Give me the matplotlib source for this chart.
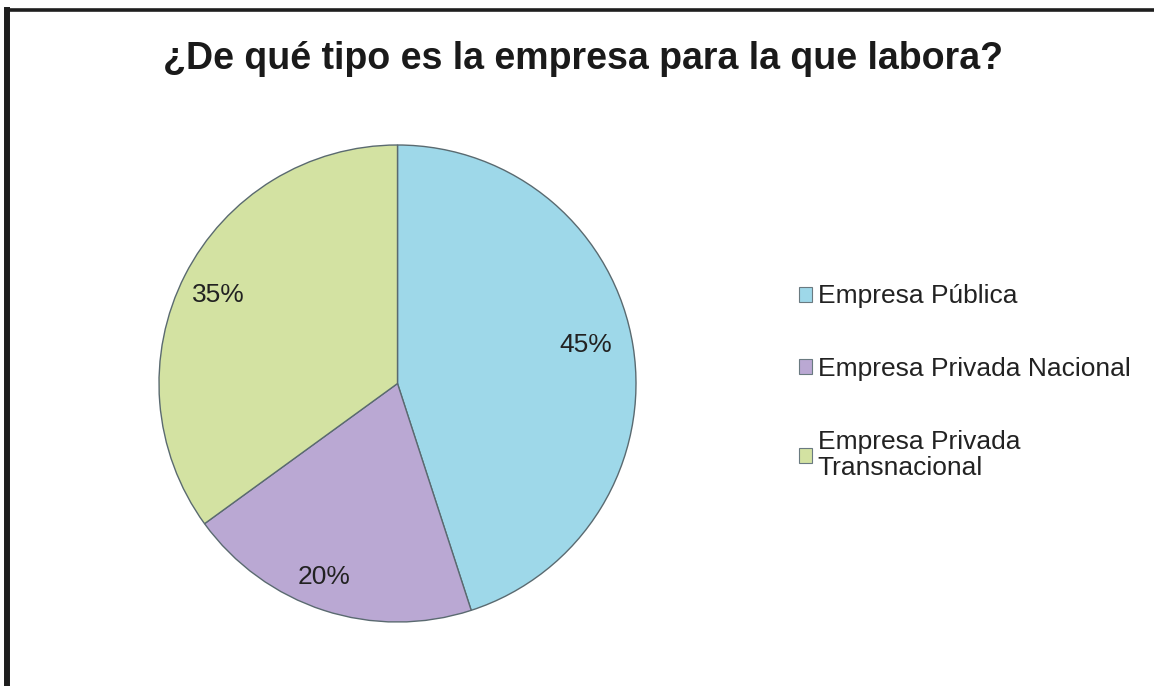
"""
Pie chart: tipo de empresa
"""

import matplotlib.pyplot as plt
from matplotlib.lines import Line2D

categories = ['Empresa Pública', 'Empresa Privada Nacional', 'Empresa Privada\nTransnacional']
values = [45, 20, 35]
colors = ['#9ed8e9', '#baa8d3', '#d3e2a2']


def main():
    plt.rcParams['font.family'] = ['Liberation Sans', 'DejaVu Sans']
    fig = plt.figure(figsize=(11.54, 6.86), dpi=100)

    # frame lines (top and left only)
    fig.add_artist(Line2D([0.0061, 1.0], [0.9847, 0.9847], transform=fig.transFigure,
                          color='#1e1e1e', lw=2.6))
    fig.add_artist(Line2D([0.0061, 0.0061], [0.0, 0.9847], transform=fig.transFigure,
                          color='#1e1e1e', lw=4.3))

    fig.text(0.505, 0.914, '¿De qué tipo es la empresa para la que labora?',
             ha='center', va='center', fontsize=27, fontweight='bold', color='#1a1a1a')

    # pie axes: center (397.5, 383.5) px, radius ~238 px
    r = 238.5
    ax = fig.add_axes([(397.5 - r) / 1154, (686 - 383.5 - r) / 686, 2 * r / 1154, 2 * r / 686])
    wedges, texts, autotexts = ax.pie(values, colors=colors, startangle=90, counterclock=False,
                                      autopct='%d%%', pctdistance=0.83,
                                      wedgeprops={'edgecolor': '#5a6a70', 'linewidth': 1.0})
    for t in autotexts:
        t.set_fontsize(19)
        t.set_color('#222222')
    # nudge label positions toward reference
    autotexts[0].set_position((0.79, 0.16))
    autotexts[1].set_position((-0.31, -0.81))
    autotexts[2].set_position((-0.75, 0.37))
    ax.set_aspect('equal')
    ax.set_xlim(-1, 1)
    ax.set_ylim(-1, 1)

    leg = fig.legend(wedges, categories, loc='upper left', bbox_to_anchor=(0.672, 0.62),
                     frameon=False, fontsize=19, handlelength=0.5, handleheight=0.5,
                     handletextpad=0.2, labelspacing=1.85)
    for h in leg.legend_handles:
        h.set_edgecolor('#6a7a80')
        h.set_linewidth(0.8)
    for t in leg.get_texts():
        t.set_color('#222222')
        t.set_linespacing(1.1)

    fig.savefig('out.png', dpi=100)


if __name__ == "__main__":
    main()
